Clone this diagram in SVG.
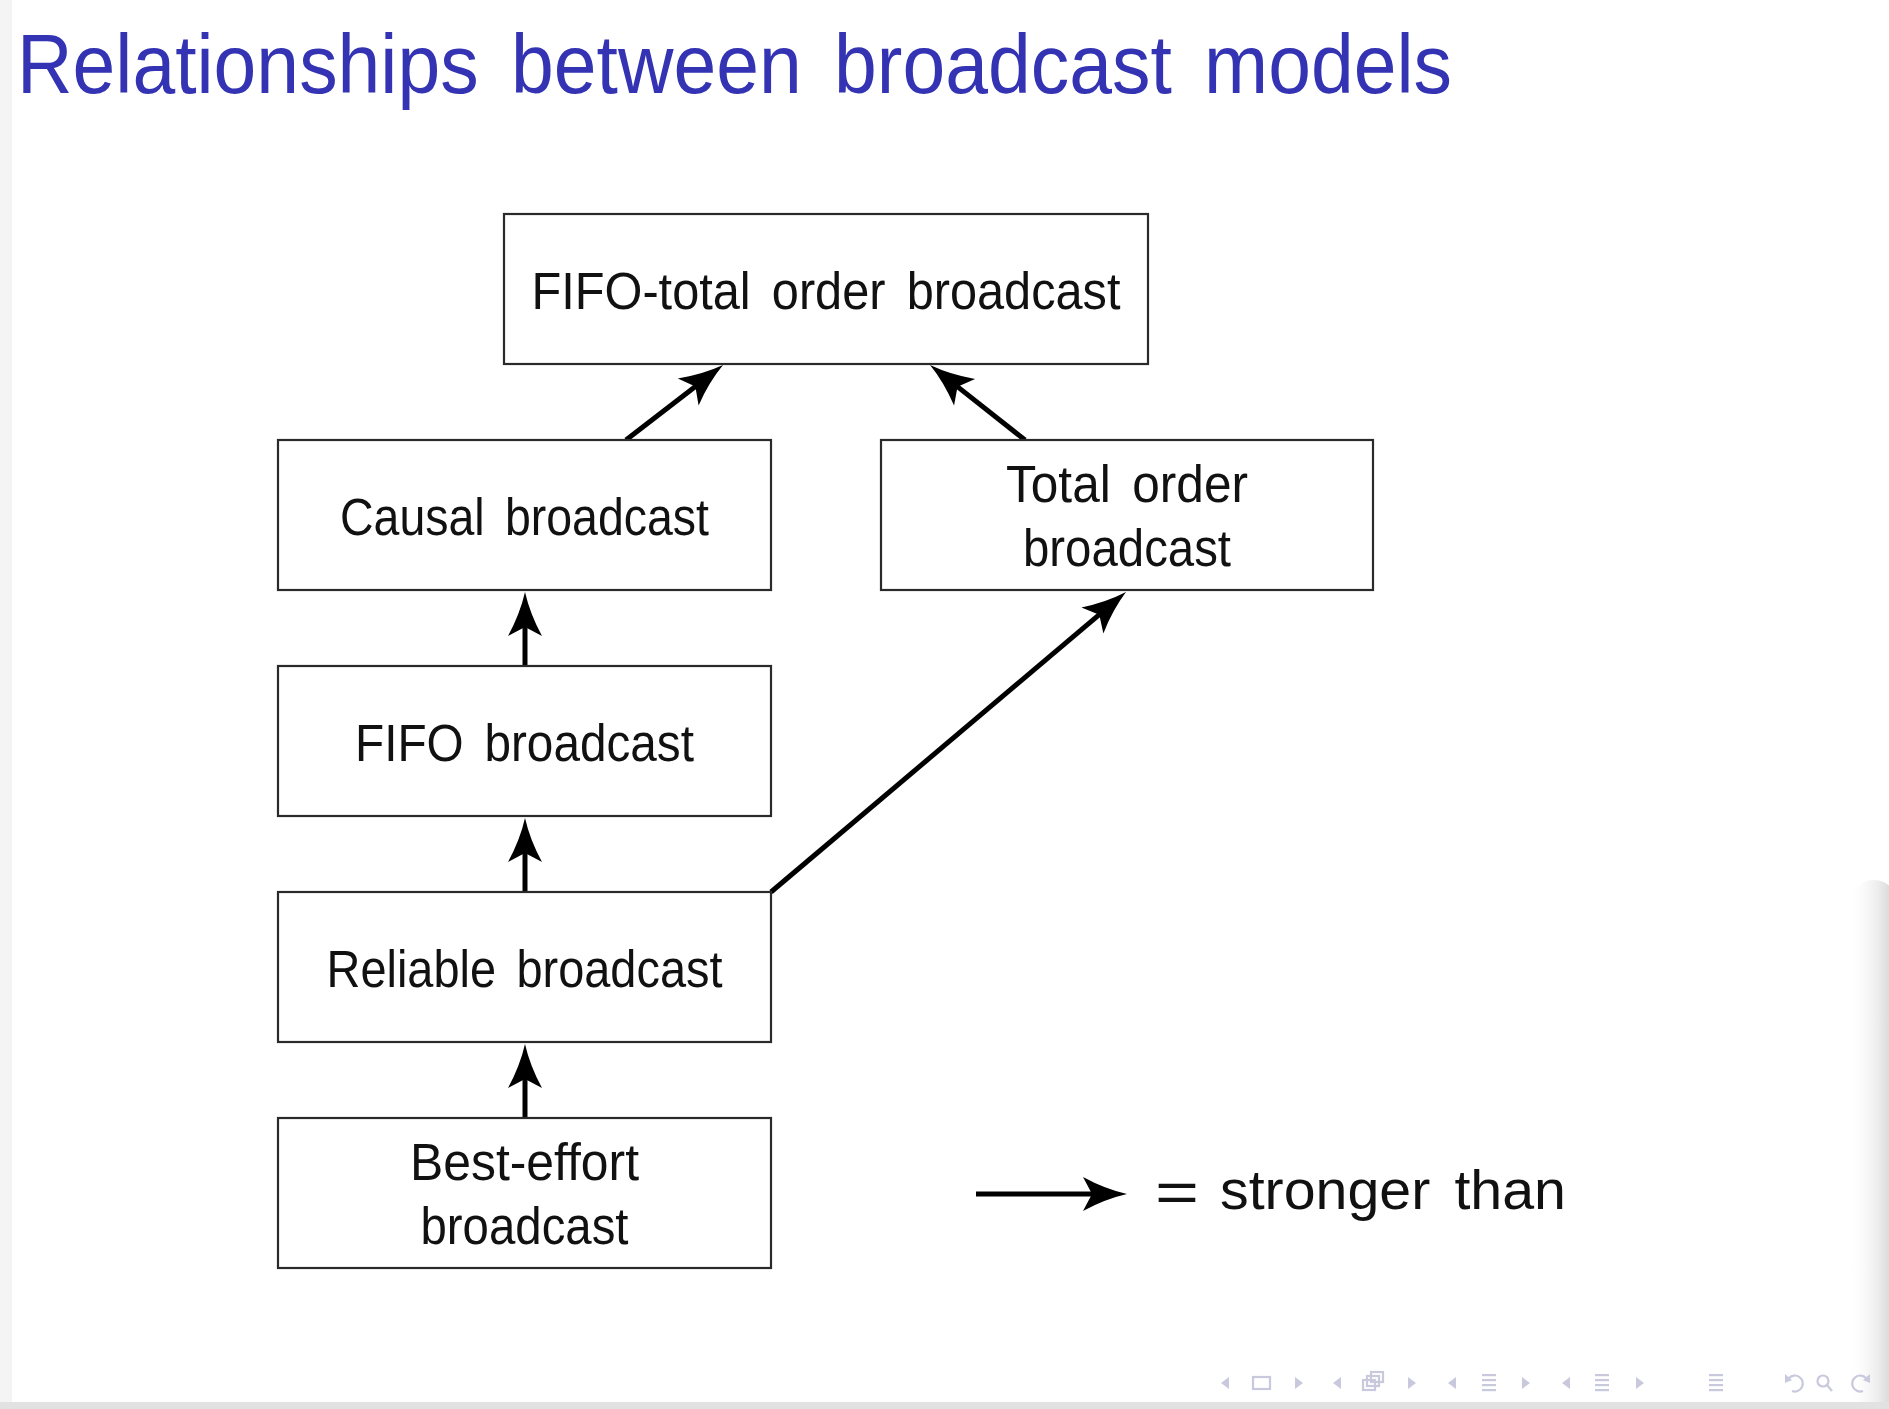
<svg xmlns="http://www.w3.org/2000/svg" width="1889" height="1409" viewBox="0 0 1889 1409">
  <style>
    .box { fill: #ffffff; stroke: #2a2a2a; stroke-width: 2.2; }
    .lbl { font-family: "Liberation Sans", Arial, sans-serif; font-size: 51px; fill: #111111; text-anchor: middle; word-spacing: 8px; }
    .title { font-family: "Liberation Sans", Arial, sans-serif; font-size: 84px; fill: #3333b3; word-spacing: 12px; }
    .edge { stroke: #000000; stroke-width: 5; fill: none; marker-end: url(#arr); }
    .nav { fill: #c9c9de; stroke: none; }
    .navs { fill: none; stroke: #c9c9de; stroke-width: 2.2; }
  </style>
  <defs>
    <marker id="arr" markerUnits="userSpaceOnUse" viewBox="-20 -20 60 40" markerWidth="60" markerHeight="40" refX="0" refY="0" orient="auto" overflow="visible">
      <path d="M30,0 Q8,-5 -14,-17 L-5,0 L-14,17 Q8,5 30,0 Z" fill="#000000"/>
    </marker>
    <linearGradient id="shadow" x1="0" y1="0" x2="1" y2="0">
      <stop offset="0" stop-color="#ffffff" stop-opacity="0"/>
      <stop offset="1" stop-color="#c6c6c6" stop-opacity="1"/>
    </linearGradient>
  </defs>

  <rect x="0" y="0" width="1889" height="1409" fill="#ffffff"/>
  <rect x="0" y="0" width="12" height="1402" fill="#f4f4f4"/>
  <rect x="1848" y="880" width="52" height="530" rx="30" fill="url(#shadow)"/>
  <rect x="0" y="1402" width="1889" height="7" fill="#e2e2e2"/>

  <text class="title" x="17" y="93" textLength="1435" lengthAdjust="spacingAndGlyphs">Relationships between broadcast models</text>

  <g id="connectors">
    <line class="edge" x1="626" y1="440" x2="699.3" y2="383.4"/>
    <line class="edge" x1="1025" y1="440" x2="953.6" y2="383.6"/>
    <line class="edge" x1="525" y1="666" x2="525" y2="622"/>
    <line class="edge" x1="525" y1="892" x2="525" y2="848"/>
    <line class="edge" x1="525" y1="1118" x2="525" y2="1074"/>
    <line class="edge" x1="771" y1="892" x2="1103.1" y2="611.4"/>
  </g>

  <g id="node-fifo-total">
    <rect class="box" x="504" y="214" width="644" height="150"/>
    <text class="lbl" x="826" y="309" textLength="589" lengthAdjust="spacingAndGlyphs">FIFO-total order broadcast</text>
  </g>
  <g id="node-causal">
    <rect class="box" x="278" y="440" width="493" height="150"/>
    <text class="lbl" x="524.5" y="535" textLength="369" lengthAdjust="spacingAndGlyphs">Causal broadcast</text>
  </g>
  <g id="node-total">
    <rect class="box" x="881" y="440" width="492" height="150"/>
    <text class="lbl" x="1127" y="502" textLength="242" lengthAdjust="spacingAndGlyphs">Total order</text>
    <text class="lbl" x="1127" y="566" textLength="208" lengthAdjust="spacingAndGlyphs">broadcast</text>
  </g>
  <g id="node-fifo">
    <rect class="box" x="278" y="666" width="493" height="150"/>
    <text class="lbl" x="524.5" y="761" textLength="339" lengthAdjust="spacingAndGlyphs">FIFO broadcast</text>
  </g>
  <g id="node-reliable">
    <rect class="box" x="278" y="892" width="493" height="150"/>
    <text class="lbl" x="524.5" y="987" textLength="396" lengthAdjust="spacingAndGlyphs">Reliable broadcast</text>
  </g>
  <g id="node-best-effort">
    <rect class="box" x="278" y="1118" width="493" height="150"/>
    <text class="lbl" x="524.5" y="1180" textLength="229" lengthAdjust="spacingAndGlyphs">Best-effort</text>
    <text class="lbl" x="524.5" y="1244" textLength="208" lengthAdjust="spacingAndGlyphs">broadcast</text>
  </g>

  <g id="legend">
    <line class="edge" x1="976" y1="1194" x2="1097" y2="1194"/>
    <text x="1155" y="1212" font-family="Liberation Sans, Arial, sans-serif" font-size="58" fill="#111111" textLength="44" lengthAdjust="spacingAndGlyphs">=</text>
    <text x="1220" y="1209" font-family="Liberation Sans, Arial, sans-serif" font-size="56" fill="#111111" word-spacing="8" textLength="346" lengthAdjust="spacingAndGlyphs">stronger than</text>
  </g>

  <g id="navigation">
    <polygon class="nav" points="1229,1377 1229,1389 1221,1383"/>
    <rect class="navs" x="1253" y="1377" width="17" height="12"/>
    <polygon class="nav" points="1295,1377 1295,1389 1303,1383"/>
    <polygon class="nav" points="1341,1377 1341,1389 1333,1383"/>
    <rect class="navs" x="1371" y="1372" width="12" height="10"/>
    <rect class="navs" x="1367" y="1376" width="12" height="10" fill="#ffffff"/>
    <rect class="navs" x="1363" y="1380" width="12" height="10" fill="#ffffff"/>
    <polygon class="nav" points="1408,1377 1408,1389 1416,1383"/>
    <polygon class="nav" points="1456,1377 1456,1389 1448,1383"/>
    <rect class="nav" x="1482" y="1374" width="14" height="2.2"/>
    <rect class="nav" x="1482" y="1379" width="14" height="2.2"/>
    <rect class="nav" x="1482" y="1384" width="14" height="2.2"/>
    <rect class="nav" x="1482" y="1389" width="14" height="2.2"/>
    <polygon class="nav" points="1522,1377 1522,1389 1530,1383"/>
    <polygon class="nav" points="1570,1377 1570,1389 1562,1383"/>
    <rect class="nav" x="1595" y="1374" width="14" height="2.2"/>
    <rect class="nav" x="1595" y="1379" width="14" height="2.2"/>
    <rect class="nav" x="1595" y="1384" width="14" height="2.2"/>
    <rect class="nav" x="1595" y="1389" width="14" height="2.2"/>
    <polygon class="nav" points="1636,1377 1636,1389 1644,1383"/>
    <rect class="nav" x="1709" y="1374" width="14" height="2.2"/>
    <rect class="nav" x="1709" y="1379" width="14" height="2.2"/>
    <rect class="nav" x="1709" y="1384" width="14" height="2.2"/>
    <rect class="nav" x="1709" y="1389" width="14" height="2.2"/>
    <path class="navs" d="M1789,1378 A8,8 0 1 1 1792,1391"/>
    <polygon class="nav" points="1785,1374 1792,1380 1785,1383"/>
    <circle class="navs" cx="1823" cy="1381" r="5.5"/>
    <line class="navs" x1="1827" y1="1385" x2="1832" y2="1391"/>
    <path class="navs" d="M1866,1378 A8,8 0 1 0 1863,1391"/>
    <polygon class="nav" points="1870,1374 1863,1380 1870,1383"/>
  </g>
</svg>
